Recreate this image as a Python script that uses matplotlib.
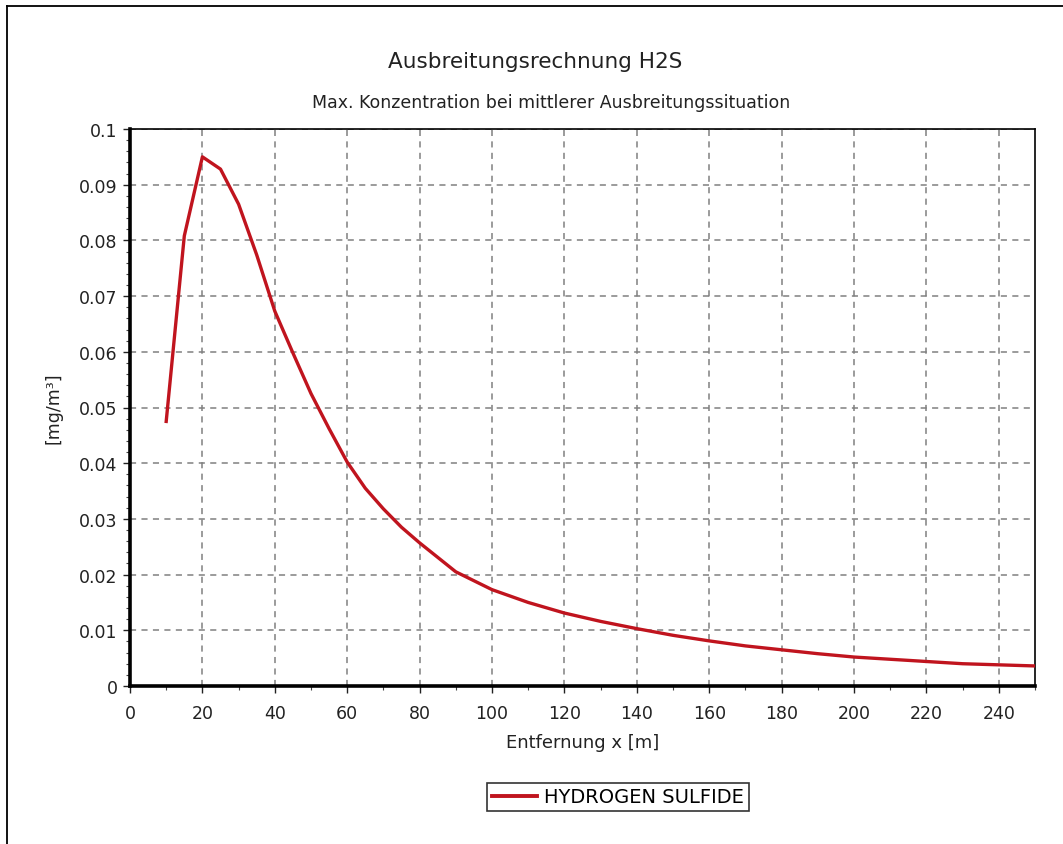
import matplotlib
matplotlib.use("Agg")
import matplotlib.pyplot as plt
from matplotlib.ticker import MultipleLocator, FuncFormatter
from matplotlib.lines import Line2D

# ======================
# DATA
# ======================
distance = [10, 15, 20, 25, 30, 35, 40, 45, 50, 55, 60, 65, 70, 75, 80, 90,
            100, 110, 120, 130, 140, 150, 160, 170, 180, 190, 200, 210,
            220, 230, 240, 250]
concentration = [0.0475, 0.0808, 0.0950, 0.0928, 0.0865, 0.0774, 0.0673,
                 0.0598, 0.0525, 0.0462, 0.0402, 0.0355, 0.0318, 0.0285,
                 0.0257, 0.0205, 0.0173, 0.0150, 0.0131, 0.0116, 0.0103,
                 0.0091, 0.0081, 0.0072, 0.0065, 0.0058, 0.0052, 0.0048,
                 0.0044, 0.0040, 0.0038, 0.0036]

title = "Ausbreitungsrechnung H2S"
subtitle = "Max. Konzentration bei mittlerer Ausbreitungssituation"
series_name = "HYDROGEN SULFIDE"

plt.rcParams['font.family'] = ['DejaVu Sans']

# ======================
# FIGURE
# ======================
W, H = 1063, 845
fig = plt.figure(figsize=(W / 100, H / 100), dpi=100)
ax = fig.add_axes([130 / W, 1 - 687 / H, (1035 - 130) / W, (687 - 130) / H])

line_color = '#c0141e'
ax.plot(distance, concentration, color=line_color, lw=2.4, zorder=3)

ax.set_xlim(0, 250)
ax.set_ylim(0, 0.1)
ax.xaxis.set_major_locator(MultipleLocator(20))
ax.xaxis.set_minor_locator(MultipleLocator(10))
ax.yaxis.set_major_locator(MultipleLocator(0.01))
ax.yaxis.set_minor_locator(MultipleLocator(0.002))
ax.yaxis.set_major_formatter(FuncFormatter(lambda v, p: f"{v:.2f}".rstrip('0').rstrip('.') if v else "0"))

ax.grid(True, which='major', color='#808080', ls=(0, (4, 3.5)), lw=1.1)
ax.tick_params(which='major', direction='out', length=5, width=1,
               labelsize=12.5, colors='#222222')
ax.tick_params(axis='x', which='major', pad=8)
ax.tick_params(axis='y', which='major', pad=4)
ax.tick_params(which='minor', direction='out', length=3, width=0.8,
               colors='#444444')

for side in ['left', 'bottom']:
    ax.spines[side].set_linewidth(2.6)
    ax.spines[side].set_zorder(4)
for side in ['top', 'right']:
    ax.spines[side].set_linewidth(1.2)

ax.set_xlabel("Entfernung x [m]", fontsize=13, color='#222222', labelpad=8)
ax.set_ylabel("[mg/m³]", fontsize=12.5, color='#222222', labelpad=12)

# titles
fig.text(535 / W, 1 - 62 / H, title, ha='center', va='center',
         fontsize=15.5, color='#222222')
fig.text(551 / W, 1 - 103 / H, subtitle, ha='center', va='center',
         fontsize=12.5, color='#222222')

# legend
handle = Line2D([], [], color=line_color, lw=2.8)
leg = fig.legend([handle], [series_name], loc='center',
                 bbox_to_anchor=(618 / W, 1 - 798 / H), frameon=True,
                 fancybox=False, fontsize=14, handlelength=2.3,
                 handletextpad=0.4, borderpad=0.25, borderaxespad=0)
leg.get_frame().set_edgecolor('black')
leg.get_frame().set_linewidth(1.2)

# window frame (top and left border of the screenshot)
fig.add_artist(Line2D([7 / W, 1], [1 - 7 / H, 1 - 7 / H], color='black', lw=1.3))
fig.add_artist(Line2D([7 / W, 7 / W], [0, 1 - 7 / H], color='black', lw=1.3))

fig.savefig("out.png", dpi=100)
